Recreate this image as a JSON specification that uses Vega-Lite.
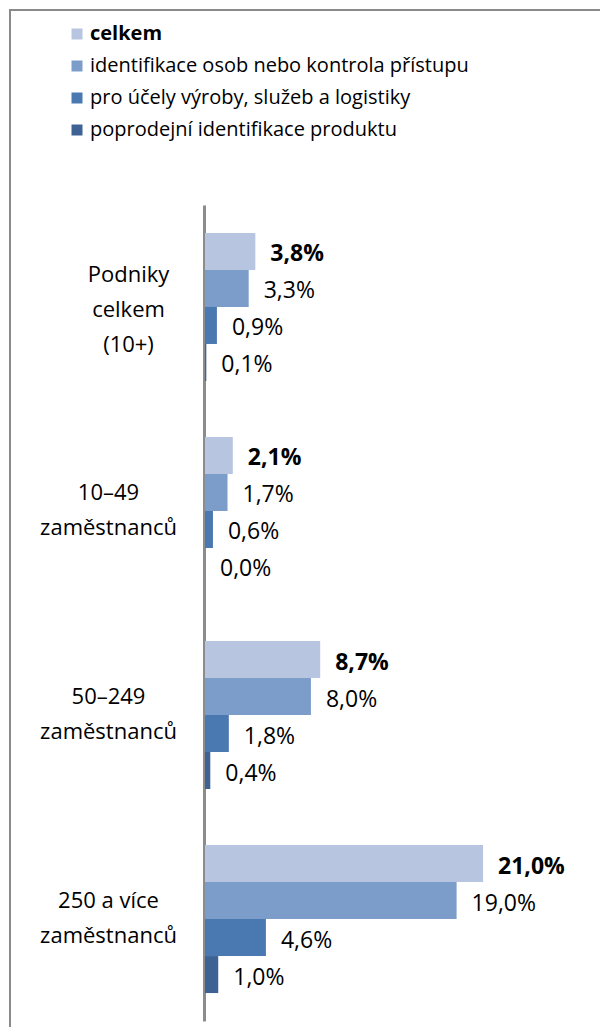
{
  "$schema": "https://vega.github.io/schema/vega-lite/v6.json",
  "width": 600,
  "height": 1027,
  "autosize": {"type": "none"},
  "padding": {"left": 10, "top": 10, "right": -10, "bottom": -10},
  "background": "white",
  "config": {
    "view": {"stroke": "#8a8a8a", "strokeWidth": 2},
    "font": "Open Sans"
  },
  "data": {
    "values": [
      {"group": "Podniky\ncelkem\n(10+)", "series": "celkem", "value": 3.8},
      {"group": "Podniky\ncelkem\n(10+)", "series": "identifikace osob nebo kontrola přístupu", "value": 3.3},
      {"group": "Podniky\ncelkem\n(10+)", "series": "pro účely výroby, služeb a logistiky", "value": 0.9},
      {"group": "Podniky\ncelkem\n(10+)", "series": "poprodejní identifikace produktu", "value": 0.1},
      {"group": "10–49\nzaměstnanců", "series": "celkem", "value": 2.1},
      {"group": "10–49\nzaměstnanců", "series": "identifikace osob nebo kontrola přístupu", "value": 1.7},
      {"group": "10–49\nzaměstnanců", "series": "pro účely výroby, služeb a logistiky", "value": 0.6},
      {"group": "10–49\nzaměstnanců", "series": "poprodejní identifikace produktu", "value": 0.0},
      {"group": "50–249\nzaměstnanců", "series": "celkem", "value": 8.7},
      {"group": "50–249\nzaměstnanců", "series": "identifikace osob nebo kontrola přístupu", "value": 8.0},
      {"group": "50–249\nzaměstnanců", "series": "pro účely výroby, služeb a logistiky", "value": 1.8},
      {"group": "50–249\nzaměstnanců", "series": "poprodejní identifikace produktu", "value": 0.4},
      {"group": "250 a více\nzaměstnanců", "series": "celkem", "value": 21.0},
      {"group": "250 a více\nzaměstnanců", "series": "identifikace osob nebo kontrola přístupu", "value": 19.0},
      {"group": "250 a více\nzaměstnanců", "series": "pro účely výroby, služeb a logistiky", "value": 4.6},
      {"group": "250 a více\nzaměstnanců", "series": "poprodejní identifikace produktu", "value": 1.0}
    ]
  },
  "encoding": {
    "y": {
      "field": "group",
      "type": "nominal",
      "sort": null,
      "scale": {"range": [195, 1011], "paddingInner": 0.2745, "paddingOuter": 0.137},
      "axis": {
        "title": null,
        "offset": -194,
        "domainColor": "#8c8c8c",
        "domainWidth": 3,
        "ticks": false,
        "tickSize": 0,
        "labelPadding": {"condition": {"test": "indexof(datum.label, 'Podniky') >= 0", "value": 76}, "value": 96},
        "labelOffset": {"condition": {"test": "indexof(datum.label, 'Podniky') >= 0", "value": -32}, "value": -18},
        "labelAlign": "center",
        "labelBaseline": "middle",
        "labelFontSize": 22,
        "labelColor": "#000000",
        "labelLineHeight": 35,
        "labelLimit": 300,
        "labelExpr": "split(datum.label, '\\n')"
      }
    },
    "yOffset": {
      "field": "series",
      "type": "nominal",
      "sort": ["celkem", "identifikace osob nebo kontrola přístupu", "pro účely výroby, služeb a logistiky", "poprodejní identifikace produktu"],
      "scale": {"paddingInner": 0, "paddingOuter": 0}
    },
    "x": {
      "field": "value",
      "type": "quantitative",
      "scale": {"domain": [0, 29], "range": [195, 579]},
      "axis": null
    }
  },
  "layer": [
    {
      "mark": {"type": "bar"},
      "encoding": {
        "color": {
          "field": "series",
          "type": "nominal",
          "scale": {
            "domain": ["celkem", "identifikace osob nebo kontrola přístupu", "pro účely výroby, služeb a logistiky", "poprodejní identifikace produktu"],
            "range": ["#b8c5e0", "#7c9cc9", "#4a78b0", "#3e6294"]
          },
          "legend": {
            "title": null,
            "orient": "none",
            "legendX": 57,
            "legendY": 14,
            "padding": 0,
            "symbolType": "square",
            "symbolSize": 121,
            "symbolStrokeWidth": 0,
            "labelFontSize": 20,
            "labelColor": "#000000",
            "labelOffset": 3,
            "rowPadding": 12,
            "labelLimit": 500,
            "encode": {
              "labels": {
                "update": {
                  "fontWeight": {"signal": "datum.label === 'celkem' ? 'bold' : 'normal'"}
                }
              }
            }
          }
        }
      }
    },
    {
      "transform": [
        {"filter": "datum.series === 'celkem'"},
        {"calculate": "replace(format(datum.value, '.1f'), '.', ',') + '%'", "as": "label"}
      ],
      "mark": {"type": "text", "align": "left", "baseline": "middle", "dx": 15, "dy": 3, "fontSize": 23, "fontWeight": "bold", "color": "#000000"},
      "encoding": {"text": {"field": "label", "type": "nominal"}}
    },
    {
      "transform": [
        {"filter": "datum.series !== 'celkem'"},
        {"calculate": "replace(format(datum.value, '.1f'), '.', ',') + '%'", "as": "label"}
      ],
      "mark": {"type": "text", "align": "left", "baseline": "middle", "dx": 15, "dy": 3, "fontSize": 23, "color": "#000000"},
      "encoding": {"text": {"field": "label", "type": "nominal"}}
    }
  ]
}
